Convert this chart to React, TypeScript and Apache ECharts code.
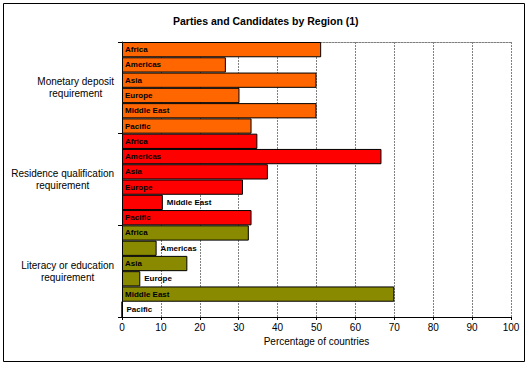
import React, { useEffect, useRef } from 'react';
import * as echarts from 'echarts';

const groups = [
  'Monetary deposit\nrequirement',
  'Residence qualification\nrequirement',
  'Literacy or education\nrequirement',
];
const regions = ['Africa', 'Americas', 'Asia', 'Europe', 'Middle East', 'Pacific'];
const monetary = [51.2, 26.7, 50, 30.2, 50, 33.3];
const residence = [34.8, 66.7, 37.5, 31.1, 10.5, 33.3];
const literacy = [32.6, 8.9, 16.8, 4.7, 70, 0];
const groupValues = [monetary, residence, literacy];
const groupColors = ['#FF6600', '#FF0000', '#8A8A00'];

const FONT = '"Liberation Sans", Arial, sans-serif';
const W = 531;
const H = 367;
const GRID_LEFT = 122;
const GRID_RIGHT = 20;

export default function App() {
  const ref = useRef<HTMLDivElement>(null);
  useEffect(() => {
    if (!ref.current) return;
    const chart = echarts.init(ref.current, undefined, { renderer: 'svg' });
    const canvas = document.createElement('canvas');
    const ctx = canvas.getContext('2d');
    if (ctx) ctx.font = 'bold 8px ' + FONT;
    const plotW = W - GRID_LEFT - GRID_RIGHT;
    const cats: string[] = [];
    const data: any[] = [];
    groupValues.forEach((vals, gi) => {
      vals.forEach((v, ri) => {
        const name = regions[ri];
        cats.push(groups[gi].replace('\n', ' ') + ' - ' + name);
        const tw = ctx ? ctx.measureText(name).width : name.length * 5;
        const barPx = (v / 100) * plotW;
        const inside = barPx > tw + 8;
        data.push({
          value: v,
          name,
          itemStyle: { color: groupColors[gi] },
          label: { position: inside ? 'insideLeft' : 'right', distance: inside ? 3 : 4 },
        });
      });
    });
    chart.setOption({
      animation: false,
      backgroundColor: '#fff',
      title: {
        text: 'Parties and Candidates by Region (1)',
        left: 168,
        top: 10,
        textStyle: { fontFamily: FONT, fontSize: 10.5, fontWeight: 'bold', color: '#000' },
      },
      graphic: [
        {
          type: 'rect',
          shape: { x: 3.5, y: 3.5, width: 521, height: 358 },
          style: { fill: 'none', stroke: '#000', lineWidth: 1 },
          silent: true,
        },
      ],
      grid: { left: GRID_LEFT, right: GRID_RIGHT, top: 42, bottom: 50 },
      xAxis: [
        {
          type: 'value',
          min: 0,
          max: 100,
          interval: 10,
          position: 'bottom',
          axisLine: { show: true, lineStyle: { color: '#000', width: 1 } },
          axisTick: { show: true, length: 3, lineStyle: { color: '#000' } },
          axisLabel: { fontFamily: FONT, fontSize: 10, color: '#000', margin: 5 },
          splitLine: { show: true, lineStyle: { color: '#808080', type: [2, 1], width: 1 } },
          name: 'Percentage of countries',
          nameLocation: 'middle',
          nameGap: 14,
          nameTextStyle: { fontFamily: FONT, fontSize: 10, color: '#000' },
        },
        {
          type: 'value',
          min: 0,
          max: 100,
          interval: 10,
          position: 'top',
          axisLine: { show: true, lineStyle: { color: '#808080', type: [2, 1], width: 1 } },
          axisTick: { show: false },
          axisLabel: { show: false },
          splitLine: { show: false },
        },
      ],
      yAxis: [
        {
          type: 'category',
          data: cats,
          inverse: true,
          axisLine: { show: false },
          axisTick: { show: false },
          axisLabel: { show: false },
          splitLine: { show: false },
        },
        {
          type: 'category',
          data: groups,
          inverse: true,
          position: 'left',
          axisLine: { show: true, lineStyle: { color: '#000', width: 1 } },
          axisTick: { show: true, length: 4, lineStyle: { color: '#000' } },
          axisLabel: {
            margin: 8,
            formatter: (v: string) => v.split('\n').map((l) => '{c|' + l + '}').join('\n'),
            rich: {
              c: { align: 'center', fontFamily: FONT, fontSize: 10, color: '#000', lineHeight: 12 },
            },
          },
          splitLine: { show: false },
        },
      ],
      series: [
        {
          type: 'bar',
          xAxisIndex: 0,
          yAxisIndex: 0,
          barCategoryGap: '0%',
          data,
          itemStyle: { borderColor: '#000', borderWidth: 1 },
          label: {
            show: true,
            formatter: '{b}',
            fontFamily: FONT,
            fontSize: 8,
            fontWeight: 'bold',
            color: '#000',
          },
        },
      ],
    });
    return () => chart.dispose();
  }, []);
  return (
    <div
      ref={ref}
      style={{ position: 'absolute', left: 0, top: 0, width: W, height: H, background: '#fff' }}
    />
  );
}
